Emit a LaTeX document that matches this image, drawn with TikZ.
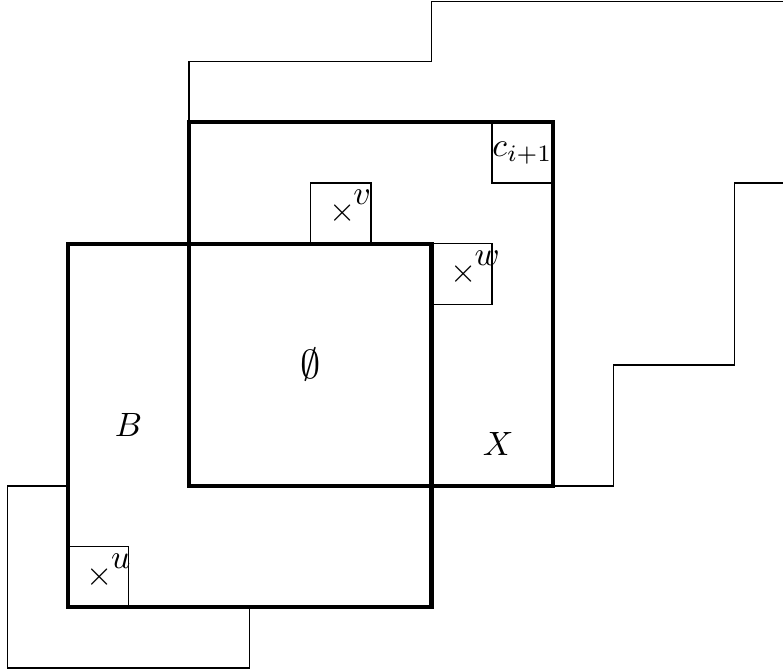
\documentclass[tikz,border=0pt]{standalone}
\usepackage{tikz}

\tikzset{
  region/.style={draw=black, very thick},
  cell/.style={draw=black, thin},
  path line/.style={draw=black, thin},
  mark label/.style={anchor=base west, inner sep=0pt, xshift=-3.6pt, yshift=-2.5pt}
}
\newcommand{\marked}[1]{$\times\mkern-1mu\raisebox{5pt}{$#1$}$}

\begin{document}
\begin{tikzpicture}[x=0.632cm, y=0.632cm]
    \useasboundingbox (-1.12,-1.02) rectangle (11.80,10.02);

    % thin staircase paths
    \draw[path line] (2,8) -- (2,9) -- (6,9) -- (6,10) -- (11.80,10);
    \draw[path line] (8,2) -- (9,2) -- (9,4) -- (11,4) -- (11,7) -- (11.80,7);
    \draw[path line] (0,2) -- (-1,2) -- (-1,-1) -- (3,-1) -- (3,0);

    % small cells
    \draw[cell] (7,7) rectangle (8,8);
    \draw[cell] (4,6) rectangle (5,7);
    \draw[cell] (6,5) rectangle (7,6);
    \draw[cell] (0,0) rectangle (1,1);

    % the two squares
    \draw[region] (2,2) rectangle (8,8);
    \draw[region] (0,0) rectangle (6,6);

    % labels
    \node (ci) at (7.5,7.5) {$c_{i+1}$};
    \node[mark label] (mv) at (4.5,6.5) {\marked{v}};
    \node[mark label] (mw) at (6.5,5.5) {\marked{w}};
    \node[mark label] (mu) at (0.5,0.5) {\marked{u}};
    \node (lb) at (1,3) {$B$};
    \node (lx) at (7.1,2.7) {$X$};
    \node[font=\fontsize{13.2}{16}\selectfont] (le) at (4,4) {$\emptyset$};
  \end{tikzpicture}
\end{document}
